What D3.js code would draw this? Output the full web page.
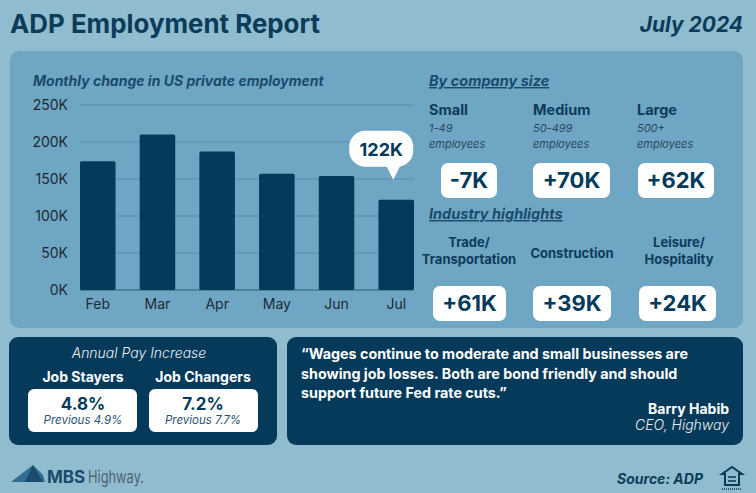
<!DOCTYPE html>
<html><head><meta charset="utf-8">
<script src="https://cdn.jsdelivr.net/npm/d3@7"></script>
<style>
html,body{margin:0;padding:0;background:#8fbdcf;}
svg{display:block;font-family:Inter,"Noto Sans",sans-serif;}
</style></head>
<body>
<svg id="c" width="756" height="493"></svg>
<script>
const months = ["Feb","Mar","Apr","May","Jun","Jul"];
const employmentChange = [174000,210000,187000,157000,154000,122000];
const yTicks = [0,50000,100000,150000,200000,250000];
const calloutLabel = "122K";
const sizeNames = ["Small","Medium","Large"];
const sizeRanges = ["1-49","50-499","500+"];
const sizeValues = ["-7K","+70K","+62K"];
const industryNames = [["Trade/","Transportation"],["Construction"],["Leisure/","Hospitality"]];
const industryValues = ["+61K","+39K","+24K"];
const payGroups = ["Job Stayers","Job Changers"];
const payValues = ["4.8%","7.2%"];
const payPrevious = ["Previous 4.9%","Previous 7.7%"];
const quoteLines = ["\u201cWages continue to moderate and small businesses are","showing job losses. Both are bond friendly and should","support future Fed rate cuts.\u201d"];

const DARK="#053a5a", PANEL="#6fa6c4", HEAD="#1a4b6c";
const svg=d3.select("#c");
svg.append("rect").attr("width",756).attr("height",493).attr("fill","#8fbdcf");

// title
svg.append("text").attr("x",10).attr("y",33).attr("fill","#0d3b5a").attr("font-size",26).attr("font-weight",700)
  .attr("textLength",310).attr("lengthAdjust","spacingAndGlyphs").text("ADP Employment Report");
svg.append("text").attr("x",743).attr("y",32).attr("text-anchor","end").attr("fill","#0d3b5a").attr("font-size",21)
  .attr("font-weight",700).attr("font-style","italic").text("July 2024");

// main panel
svg.append("rect").attr("x",10).attr("y",51).attr("width",733).attr("height",277).attr("rx",9).attr("fill",PANEL);

svg.append("text").attr("x",33).attr("y",86).attr("fill",HEAD).attr("font-size",14).attr("font-weight",700)
  .attr("font-style","italic").text("Monthly change in US private employment");

const x=d3.scaleBand().domain(months).range([80,414]).paddingInner(0.405).paddingOuter(0);
const y=d3.scaleLinear().domain([0,250000]).range([290,105]);

const g=svg.append("g");
g.selectAll("line.grid").data(yTicks).join("line")
  .attr("x1",80).attr("x2",414).attr("y1",d=>y(d)).attr("y2",d=>y(d))
  .attr("stroke",d=>d===0?"#3f7596":"#5a8dab").attr("stroke-width",d=>d===0?1.5:1.2);

const yAxis=svg.append("g").attr("transform","translate(80,0)")
  .call(d3.axisLeft(y).tickValues(yTicks).tickSize(0).tickPadding(12).tickFormat(d=>(d/1000)+"K"));
yAxis.select(".domain").remove();
yAxis.selectAll("text").attr("font-size",14).attr("fill","#1c2a35").attr("font-family","Inter,sans-serif");

g.selectAll("rect.bar").data(employmentChange).join("rect")
  .attr("x",(d,i)=>x(months[i])).attr("width",x.bandwidth())
  .attr("y",d=>y(d)).attr("height",d=>y(0)-y(d)).attr("rx",1.5).attr("fill",DARK);

const xAxis=svg.append("g").attr("transform","translate(0,290)")
  .call(d3.axisBottom(x).tickSize(0).tickPadding(9));
xAxis.select(".domain").remove();
xAxis.selectAll("text").attr("font-size",14).attr("fill","#1c2a35").attr("font-family","Inter,sans-serif");

// callout
const last=months.length-1;
const cx=x(months[last])+x.bandwidth()/2-15, tipY=y(employmentChange[last])-20;
const cb=svg.append("g");
cb.append("rect").attr("x",cx-32).attr("y",tipY-49).attr("width",64).attr("height",36).attr("rx",16).attr("fill","#fff");
cb.append("path").attr("d",`M${cx+5},${tipY-14} L${cx+12},${tipY} L${cx+19},${tipY-14} Z`).attr("fill","#fff");
cb.append("text").attr("x",cx).attr("y",tipY-24).attr("text-anchor","middle").attr("font-size",18).attr("font-weight",700)
  .attr("fill",DARK).text(calloutLabel);

// company size
svg.append("text").attr("x",429).attr("y",86).attr("fill",HEAD).attr("font-size",14.5).attr("font-weight",700)
  .attr("font-style","italic").attr("text-decoration","underline").text("By company size");
const colX=[429,533,637];
const boxSize=[[441,56],[533,77],[638,76]];
sizeNames.forEach((n,i)=>{
  svg.append("text").attr("x",colX[i]).attr("y",115).attr("fill","#0d3b5a").attr("font-size",14.5).attr("font-weight",700).text(n);
  svg.append("text").attr("x",colX[i]).attr("y",132).attr("fill","#2a4a60").attr("font-size",11).attr("font-style","italic").text(sizeRanges[i]);
  svg.append("text").attr("x",colX[i]).attr("y",148).attr("fill","#2a4a60").attr("font-size",11).attr("font-style","italic").text("employees");
  const [bx,bw]=boxSize[i];
  svg.append("rect").attr("x",bx).attr("y",163).attr("width",bw).attr("height",35).attr("rx",7).attr("fill","#fff");
  svg.append("text").attr("x",bx+bw/2).attr("y",188).attr("text-anchor","middle").attr("fill",DARK).attr("font-size",22)
    .attr("font-weight",700).text(sizeValues[i]);
});

svg.append("text").attr("x",429).attr("y",219).attr("fill",HEAD).attr("font-size",14.5).attr("font-weight",700)
  .attr("font-style","italic").attr("text-decoration","underline").text("Industry highlights");
const indX=[469,572,679];
const indBox=[[433,73],[533,78],[639,77]];
industryNames.forEach((lines,i)=>{
  const base = lines.length===2?247:258;
  lines.forEach((l,j)=>svg.append("text").attr("x",indX[i]).attr("y",base+j*17).attr("text-anchor","middle")
    .attr("fill","#0d3b5a").attr("font-size",13).attr("font-weight",700).text(l));
  const [bx,bw]=indBox[i];
  svg.append("rect").attr("x",bx).attr("y",286).attr("width",bw).attr("height",35).attr("rx",7).attr("fill","#fff");
  svg.append("text").attr("x",bx+bw/2).attr("y",311).attr("text-anchor","middle").attr("fill",DARK).attr("font-size",22)
    .attr("font-weight",700).text(industryValues[i]);
});

// pay box
svg.append("rect").attr("x",9).attr("y",337).attr("width",268).attr("height",108).attr("rx",9).attr("fill",DARK);
svg.append("text").attr("x",139).attr("y",358).attr("text-anchor","middle").attr("fill","#e8eef2").attr("font-size",14)
  .attr("font-style","italic").attr("font-weight",300).text("Annual Pay Increase");
const payX=[83,203], payBox=[[28,109],[149,109]];
payGroups.forEach((p,i)=>{
  svg.append("text").attr("x",payX[i]).attr("y",382).attr("text-anchor","middle").attr("fill","#fff").attr("font-size",14)
    .attr("font-weight",700).text(p);
  svg.append("rect").attr("x",payBox[i][0]).attr("y",389).attr("width",payBox[i][1]).attr("height",43).attr("rx",6).attr("fill","#fff");
  svg.append("text").attr("x",payX[i]).attr("y",410).attr("text-anchor","middle").attr("fill",DARK).attr("font-size",17)
    .attr("font-weight",700).text(payValues[i]);
  svg.append("text").attr("x",payX[i]).attr("y",424).attr("text-anchor","middle").attr("fill","#2a5272").attr("font-size",11.5)
    .attr("font-style","italic").text(payPrevious[i]);
});

// quote
svg.append("rect").attr("x",287).attr("y",337).attr("width",456).attr("height",108).attr("rx",9).attr("fill",DARK);
quoteLines.forEach((l,i)=>svg.append("text").attr("x",301).attr("y",359+i*19.5).attr("fill","#fff").attr("font-size",14.3)
  .attr("font-weight",700).text(l));
svg.append("text").attr("x",729).attr("y",414).attr("text-anchor","end").attr("fill","#fff").attr("font-size",14)
  .attr("font-weight",700).text("Barry Habib");
svg.append("text").attr("x",729).attr("y",430).attr("text-anchor","end").attr("fill","#e8eef2").attr("font-size",14)
  .attr("font-style","italic").attr("font-weight",300).text("CEO, Highway");

// footer logo
const lg=svg.append("g");
lg.append("path").attr("d","M11,482 L33,465 L43,475 L45,482 Z").attr("fill","#2f6e92");
lg.append("path").attr("d","M25,482 L33,465 L43,482 Z").attr("fill","#1a4b6c");
lg.append("text").attr("x",47).attr("y",483).attr("fill","#1a4b6c").attr("font-size",17).attr("font-weight",700).text("MBS");
lg.append("text").attr("x",88).attr("y",483).attr("fill","#4f6370").attr("font-size",17).attr("font-weight",400)
  .attr("textLength",56).attr("lengthAdjust","spacingAndGlyphs").text("Highway.");

svg.append("text").attr("x",703).attr("y",484).attr("text-anchor","end").attr("fill","#0d3b5a").attr("font-size",14)
  .attr("font-weight",700).attr("font-style","italic").text("Source: ADP");
// equal housing icon
const eh=svg.append("g").attr("fill","none").attr("stroke","#0d3b5a");
eh.append("path").attr("d","M722,474 L732,467 L742,474 L739,474 L739,485 L725,485 L725,474 Z").attr("stroke-width",2);
eh.append("line").attr("x1",728).attr("x2",736).attr("y1",477).attr("y2",477).attr("stroke-width",1.6);
eh.append("line").attr("x1",728).attr("x2",736).attr("y1",481).attr("y2",481).attr("stroke-width",1.6);
eh.append("line").attr("x1",722).attr("x2",742).attr("y1",489).attr("y2",489).attr("stroke-width",1.5).attr("stroke-dasharray","1,1");
</script>
</body></html>
